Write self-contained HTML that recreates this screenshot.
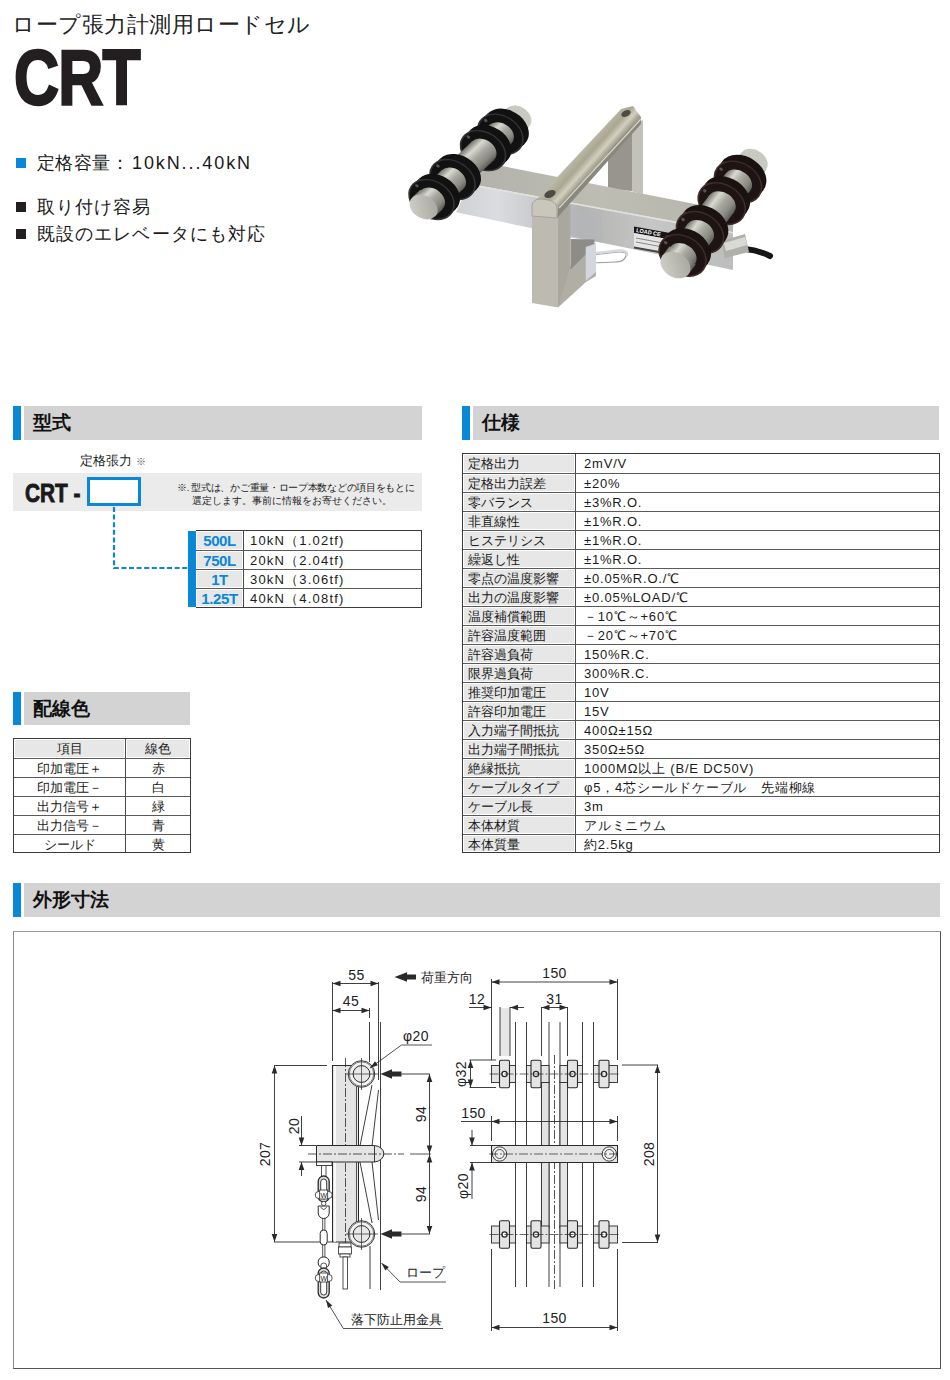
<!DOCTYPE html>
<html lang="ja"><head><meta charset="utf-8">
<style>
*{margin:0;padding:0;box-sizing:border-box}
html,body{width:950px;height:1380px;background:#fff;overflow:hidden}
body{position:relative;font-family:"Liberation Sans",sans-serif;color:#1a1a1a}
.a{position:absolute;white-space:nowrap}
.hdr{position:absolute;height:34px;background:#d3d3d3}
.hdr .bar{position:absolute;left:-11px;top:0;width:8px;height:34px;background:#0a88d8}
.hdr span{position:absolute;left:9px;top:5px;font-size:19px;font-weight:bold;color:#111;line-height:24px}
table{border-collapse:collapse;position:absolute;font-size:13px;table-layout:fixed}
td{border:1px solid #666;height:19px;padding:0;line-height:17px;white-space:nowrap;overflow:hidden}

.tbl{position:absolute;border:1px solid #3a3a3a;font-size:13px;line-height:20px;background:#fff}
.tbl .r{display:flex;height:19px;border-top:1px solid #5a5a5a}
.tbl .r:first-child{height:19px;border-top:0}
.spec .r:last-child,.wire .r:last-child{height:18px}
.tbl .c1{position:relative;border-right:1px solid #4a4a4a;background:#e7e7e7;box-shadow:inset 0 0 0 1px #fff;white-space:nowrap;overflow:hidden}
.tbl .c2{flex:1;white-space:nowrap;overflow:hidden}
.spec .c1{width:113px;padding-left:5px}
.spec .c2{padding-left:8px;letter-spacing:0.8px}
.wire .c1{width:112px;background:#fff;box-shadow:none;text-align:center}
.wire .c2{text-align:center}
.wire .r:first-child .c1,.wire .r:first-child .c2{background:#e7e7e7;box-shadow:inset 0 0 0 1px #fff}
.model{border-left:0}
.model .c1{width:48px;text-align:center;color:#0a88d8;font-weight:bold;font-size:15px;letter-spacing:-0.4px}
.model .c2{padding-left:6px;letter-spacing:1.2px}
</style></head><body>

<div class="a" style="left:12px;top:10px;font-size:22px;letter-spacing:0.5px;line-height:30px;color:#222">ロープ張力計測用ロードセル</div>
<div class="a" id="crt" style="left:14px;top:37px;font-size:78px;font-weight:bold;line-height:80px;color:#231f20;transform:scaleX(0.8);transform-origin:0 0;letter-spacing:-1px;-webkit-text-stroke:2.4px #231f20">CRT</div>

<div class="a" style="left:16px;top:158px;width:10px;height:10px;background:#0a88d8"></div>
<div class="a" style="left:37px;top:152px;font-size:18px;line-height:22px;letter-spacing:0.4px">定格容量：<span style="letter-spacing:1.9px;margin-left:3px">10kN...40kN</span></div>
<div class="a" style="left:16px;top:202px;width:10px;height:10px;background:#231f20"></div>
<div class="a" style="left:37px;top:196px;font-size:18px;line-height:22px;letter-spacing:1.1px">取り付け容易</div>
<div class="a" style="left:16px;top:229px;width:10px;height:10px;background:#231f20"></div>
<div class="a" style="left:37px;top:223px;font-size:18px;line-height:22px;letter-spacing:1.1px">既設のエレベータにも対応</div>

<!-- section headers -->
<div class="hdr" style="left:24px;top:406px;width:398px"><div class="bar"></div><span>型式</span></div>
<div class="hdr" style="left:473px;top:406px;width:466px"><div class="bar"></div><span>仕様</span></div>
<div class="hdr" style="left:24px;top:692px;width:166px;height:33px"><div class="bar" style="height:33px"></div><span>配線色</span></div>
<div class="hdr" style="left:24px;top:883px;width:916px"><div class="bar"></div><span>外形寸法</span></div>


<div class="a" style="left:13px;top:473px;width:409px;height:38px;background:#ebebeb"></div>
<div class="a" style="left:80px;top:452px;font-size:13px;line-height:18px">定格張力 <span style="font-size:10px;color:#555">※</span></div>
<div class="a" style="left:25px;top:476px;font-size:26px;font-weight:bold;line-height:34px;color:#1a1a1a;transform:scaleX(0.8);transform-origin:0 0;-webkit-text-stroke:0.9px #1a1a1a">CRT -</div>
<div class="a" style="left:87px;top:477px;width:54px;height:29px;border:3px solid #0a88d8;background:#fff"></div>
<div class="a" style="left:177px;top:481px;font-size:9.5px;line-height:13px;color:#222"><span style="letter-spacing:-0.3px">※. 型式は、かご重量・ロープ本数などの項目をもとに</span><br><span style="padding-left:15px">選定します。事前に情報をお寄せください。</span></div>
<svg class="a" style="left:0;top:0" width="200" height="600"><path d="M114,507 V568 H188" fill="none" stroke="#0a88d8" stroke-width="2.2" stroke-dasharray="5 2.6"/></svg>
<div class="a" style="left:188px;top:531px;width:8px;height:76px;background:#0a88d8"></div>
<div class="tbl spec" style="left:462px;top:453px;width:478px">
<div class="r"><div class="c1">定格出力</div><div class="c2">2mV/V</div></div>
<div class="r"><div class="c1">定格出力誤差</div><div class="c2">±20%</div></div>
<div class="r"><div class="c1">零バランス</div><div class="c2">±3%R.O.</div></div>
<div class="r"><div class="c1">非直線性</div><div class="c2">±1%R.O.</div></div>
<div class="r"><div class="c1">ヒステリシス</div><div class="c2">±1%R.O.</div></div>
<div class="r"><div class="c1">繰返し性</div><div class="c2">±1%R.O.</div></div>
<div class="r"><div class="c1">零点の温度影響</div><div class="c2">±0.05%R.O./℃</div></div>
<div class="r"><div class="c1">出力の温度影響</div><div class="c2">±0.05%LOAD/℃</div></div>
<div class="r"><div class="c1">温度補償範囲</div><div class="c2">－10℃～+60℃</div></div>
<div class="r"><div class="c1">許容温度範囲</div><div class="c2">－20℃～+70℃</div></div>
<div class="r"><div class="c1">許容過負荷</div><div class="c2">150%R.C.</div></div>
<div class="r"><div class="c1">限界過負荷</div><div class="c2">300%R.C.</div></div>
<div class="r"><div class="c1">推奨印加電圧</div><div class="c2">10V</div></div>
<div class="r"><div class="c1">許容印加電圧</div><div class="c2">15V</div></div>
<div class="r"><div class="c1">入力端子間抵抗</div><div class="c2">400Ω±15Ω</div></div>
<div class="r"><div class="c1">出力端子間抵抗</div><div class="c2">350Ω±5Ω</div></div>
<div class="r"><div class="c1">絶縁抵抗</div><div class="c2">1000MΩ以上 (B/E DC50V)</div></div>
<div class="r"><div class="c1">ケーブルタイプ</div><div class="c2">φ5，4芯シールドケーブル　先端柳線</div></div>
<div class="r"><div class="c1">ケーブル長</div><div class="c2">3m</div></div>
<div class="r"><div class="c1">本体材質</div><div class="c2">アルミニウム</div></div>
<div class="r"><div class="c1">本体質量</div><div class="c2">約2.5kg</div></div>
</div>
<div class="tbl wire" style="left:13px;top:738px;width:178px">
<div class="r"><div class="c1">項目</div><div class="c2">線色</div></div>
<div class="r"><div class="c1">印加電圧＋</div><div class="c2">赤</div></div>
<div class="r"><div class="c1">印加電圧－</div><div class="c2">白</div></div>
<div class="r"><div class="c1">出力信号＋</div><div class="c2">緑</div></div>
<div class="r"><div class="c1">出力信号－</div><div class="c2">青</div></div>
<div class="r"><div class="c1">シールド</div><div class="c2">黄</div></div>
</div>
<div class="tbl model" style="left:196px;top:530px;width:226px">
<div class="r"><div class="c1">500L</div><div class="c2">10kN（1.02tf)</div></div>
<div class="r"><div class="c1">750L</div><div class="c2">20kN（2.04tf)</div></div>
<div class="r"><div class="c1">1T</div><div class="c2">30kN（3.06tf)</div></div>
<div class="r"><div class="c1">1.25T</div><div class="c2">40kN（4.08tf)</div></div>
</div>
<!--DRAW-->
<div class="a" style="left:13px;top:931px;width:928px;height:438px;border:1px solid #555;border-top-color:#9a9a9a;border-left-color:#8a8a8a"></div>
<svg class="a" style="left:0;top:0" width="950" height="1380" viewBox="0 0 950 1380" font-family="Liberation Sans, sans-serif" fill="#222">
<line x1="332.5" y1="982" x2="332.5" y2="1061" stroke="#2a2a2a" stroke-width="0.9"/>
<line x1="378.5" y1="982" x2="378.5" y2="1080" stroke="#2a2a2a" stroke-width="0.9"/>
<line x1="332.5" y1="983.5" x2="378.5" y2="983.5" stroke="#2a2a2a" stroke-width="0.9"/>
<polygon points="332.5,983.5 340.5,980.7 340.5,986.3" fill="#2a2a2a"/>
<polygon points="378.5,983.5 370.5,986.3 370.5,980.7" fill="#2a2a2a"/>
<text x="356.5" y="975" font-size="14" text-anchor="middle" dominant-baseline="central" letter-spacing="0.4">55</text>
<line x1="369.5" y1="1008" x2="369.5" y2="1018" stroke="#2a2a2a" stroke-width="0.9"/>
<line x1="369.5" y1="1022" x2="369.5" y2="1062" stroke="#2a2a2a" stroke-width="0.9"/>
<line x1="332.5" y1="1010.5" x2="369.5" y2="1010.5" stroke="#2a2a2a" stroke-width="0.9"/>
<polygon points="332.5,1010.5 340.5,1007.7 340.5,1013.3" fill="#2a2a2a"/>
<polygon points="369.5,1010.5 361.5,1013.3 361.5,1007.7" fill="#2a2a2a"/>
<text x="351" y="1001" font-size="14" text-anchor="middle" dominant-baseline="central" letter-spacing="0.4">45</text>
<polygon points="394.5,977 407,972.3 407,974.6 416,974.6 416,979.4 407,979.4 407,981.7" fill="#2a2a2a"/>
<text x="421" y="977.5" font-size="13" text-anchor="start" dominant-baseline="central">荷重方向</text>
<line x1="380.5" y1="1022" x2="380.5" y2="1290" stroke="#2a2a2a" stroke-width="0.9"/>
<rect x="332.5" y="1065.5" width="26" height="176.5" fill="#e4e4e4" stroke="#2a2a2a" stroke-width="1"/>
<line x1="335" y1="1066" x2="335" y2="1242" stroke="#ffffff" stroke-width="1.6"/>
<line x1="356.5" y1="1066" x2="356.5" y2="1242" stroke="#2a2a2a" stroke-width="0.8"/>
<line x1="345.5" y1="1058" x2="345.5" y2="1250" stroke="#2a2a2a" stroke-width="0.8" stroke-dasharray="9 2 2 2"/>
<circle cx="361.5" cy="1074" r="13.3" fill="#f2f2f2" stroke="#2a2a2a" stroke-width="0.9"/>
<circle cx="361.5" cy="1074" r="12.2" fill="none" stroke="#2a2a2a" stroke-width="0.6"/>
<circle cx="361.5" cy="1074" r="8.4" fill="#e8e8e8" stroke="#2a2a2a" stroke-width="1"/>
<line x1="346" y1="1074" x2="378" y2="1074" stroke="#2a2a2a" stroke-width="0.7"/>
<line x1="361.5" y1="1058" x2="361.5" y2="1090" stroke="#2a2a2a" stroke-width="0.7"/>
<circle cx="361.5" cy="1234" r="13.3" fill="#f2f2f2" stroke="#2a2a2a" stroke-width="0.9"/>
<circle cx="361.5" cy="1234" r="12.2" fill="none" stroke="#2a2a2a" stroke-width="0.6"/>
<circle cx="361.5" cy="1234" r="8.4" fill="#e8e8e8" stroke="#2a2a2a" stroke-width="1"/>
<line x1="346" y1="1234" x2="378" y2="1234" stroke="#2a2a2a" stroke-width="0.7"/>
<line x1="361.5" y1="1218" x2="361.5" y2="1250" stroke="#2a2a2a" stroke-width="0.7"/>
<line x1="372" y1="1085" x2="360" y2="1146" stroke="#2a2a2a" stroke-width="0.9"/>
<line x1="378.5" y1="1090" x2="372" y2="1146" stroke="#2a2a2a" stroke-width="0.9"/>
<line x1="360" y1="1162" x2="372" y2="1223" stroke="#2a2a2a" stroke-width="0.9"/>
<line x1="372" y1="1162" x2="378.5" y2="1220" stroke="#2a2a2a" stroke-width="0.9"/>
<line x1="370" y1="1246" x2="370" y2="1289" stroke="#2a2a2a" stroke-width="0.9"/>
<path d="M316.5,1145.5 H374.5 A10.5,8.3 0 0 1 374.5,1162 H316.5 Z" fill="#e4e4e4" stroke="#2a2a2a" stroke-width="1"/>
<line x1="374.5" y1="1145.5" x2="374.5" y2="1162" stroke="#2a2a2a" stroke-width="0.9"/>
<rect x="316.5" y="1162" width="15.5" height="3.5" fill="#fff" stroke="#2a2a2a" stroke-width="0.9"/>
<line x1="308" y1="1154" x2="404" y2="1154" stroke="#2a2a2a" stroke-width="0.8" stroke-dasharray="9 2 2 2"/>
<line x1="410" y1="1154" x2="431" y2="1154" stroke="#2a2a2a" stroke-width="0.8"/>
<polygon points="380.5,1074 392,1069.2 392,1071.6 401.5,1071.6 401.5,1076.4 392,1076.4 392,1078.8" fill="#2a2a2a"/>
<line x1="401.5" y1="1074" x2="430" y2="1074" stroke="#2a2a2a" stroke-width="0.9"/>
<polygon points="380.5,1234 392,1229.2 392,1231.6 401.5,1231.6 401.5,1236.4 392,1236.4 392,1238.8" fill="#2a2a2a"/>
<line x1="401.5" y1="1234" x2="430" y2="1234" stroke="#2a2a2a" stroke-width="0.9"/>
<line x1="429.5" y1="1074" x2="429.5" y2="1234" stroke="#2a2a2a" stroke-width="0.9"/>
<polygon points="429.5,1074 432.3,1082.0 426.7,1082.0" fill="#2a2a2a"/>
<polygon points="429.5,1153.5 426.7,1145.5 432.3,1145.5" fill="#2a2a2a"/>
<polygon points="429.5,1154.5 432.3,1162.5 426.7,1162.5" fill="#2a2a2a"/>
<polygon points="429.5,1234 426.7,1226.0 432.3,1226.0" fill="#2a2a2a"/>
<text x="421" y="1114" font-size="14" text-anchor="middle" dominant-baseline="central" letter-spacing="0.4" transform="rotate(-90 421 1114)">94</text>
<text x="421" y="1194" font-size="14" text-anchor="middle" dominant-baseline="central" letter-spacing="0.4" transform="rotate(-90 421 1194)">94</text>
<line x1="274" y1="1065.5" x2="327" y2="1065.5" stroke="#2a2a2a" stroke-width="0.9"/>
<line x1="274" y1="1242" x2="332" y2="1242" stroke="#2a2a2a" stroke-width="0.9"/>
<line x1="274.5" y1="1065.5" x2="274.5" y2="1242" stroke="#2a2a2a" stroke-width="0.9"/>
<polygon points="274.5,1065.5 277.3,1073.5 271.7,1073.5" fill="#2a2a2a"/>
<polygon points="274.5,1242 271.7,1234.0 277.3,1234.0" fill="#2a2a2a"/>
<text x="265" y="1154" font-size="14" text-anchor="middle" dominant-baseline="central" letter-spacing="0.4" transform="rotate(-90 265 1154)">207</text>
<line x1="299" y1="1145.5" x2="316" y2="1145.5" stroke="#2a2a2a" stroke-width="0.9"/>
<line x1="299" y1="1162" x2="316" y2="1162" stroke="#2a2a2a" stroke-width="0.9"/>
<line x1="301.5" y1="1116" x2="301.5" y2="1145.5" stroke="#2a2a2a" stroke-width="0.9"/>
<polygon points="301.5,1145.5 298.7,1137.5 304.3,1137.5" fill="#2a2a2a"/>
<line x1="301.5" y1="1162" x2="301.5" y2="1176" stroke="#2a2a2a" stroke-width="0.9"/>
<polygon points="301.5,1162 304.3,1170.0 298.7,1170.0" fill="#2a2a2a"/>
<text x="294" y="1126" font-size="14" text-anchor="middle" dominant-baseline="central" letter-spacing="0.4" transform="rotate(-90 294 1126)">20</text>
<line x1="321.5" y1="1166" x2="321.5" y2="1177" stroke="#2a2a2a" stroke-width="0.8"/>
<line x1="326" y1="1166" x2="326" y2="1177" stroke="#2a2a2a" stroke-width="0.8"/>
<rect x="318.2" y="1176" width="11" height="26" rx="5.5" fill="#ddd" stroke="#2a2a2a" stroke-width="1.3"/>
<rect x="320.7" y="1179" width="6" height="20" rx="3" fill="#fff" stroke="#2a2a2a" stroke-width="0.9"/>
<circle cx="318.7" cy="1195" r="3.5" fill="#fff" stroke="#2a2a2a" stroke-width="0.8"/>
<circle cx="328.7" cy="1195" r="3.5" fill="#fff" stroke="#2a2a2a" stroke-width="0.8"/>
<rect x="319.7" y="1190" width="8" height="9" fill="#fff" stroke="#2a2a2a" stroke-width="0.8"/>
<text x="323.7" y="1195" font-size="7" text-anchor="middle" dominant-baseline="central">W</text>
<path d="M318.2,1206 V1213 A5.5,5.5 0 0 0 329.2,1213 V1206 Z" fill="#fff" stroke="#2a2a2a" stroke-width="1"/>
<path d="M320.7,1207 Q323.7,1212 326.7,1207" fill="none" stroke="#2a2a2a" stroke-width="0.8"/>
<circle cx="323.7" cy="1203.5" r="2.2" fill="#fff" stroke="#2a2a2a" stroke-width="0.8"/>
<line x1="322.7" y1="1218" x2="322.7" y2="1230" stroke="#2a2a2a" stroke-width="0.8"/>
<line x1="324.9" y1="1218" x2="324.9" y2="1230" stroke="#2a2a2a" stroke-width="0.8"/>
<rect x="320.2" y="1230" width="7" height="15" rx="3.5" fill="#fff" stroke="#2a2a2a" stroke-width="1"/>
<line x1="322.7" y1="1245" x2="322.7" y2="1257" stroke="#2a2a2a" stroke-width="0.8"/>
<line x1="324.9" y1="1245" x2="324.9" y2="1257" stroke="#2a2a2a" stroke-width="0.8"/>
<rect x="318.2" y="1257" width="11" height="11" rx="5" fill="#fff" stroke="#2a2a2a" stroke-width="1"/>
<circle cx="323.7" cy="1266" r="3" fill="#fff" stroke="#2a2a2a" stroke-width="0.8"/>
<rect x="318.2" y="1268" width="11" height="30" rx="5.5" fill="#ddd" stroke="#2a2a2a" stroke-width="1.3"/>
<rect x="320.7" y="1271" width="6" height="24" rx="3" fill="#fff" stroke="#2a2a2a" stroke-width="0.9"/>
<circle cx="318.7" cy="1278" r="3.5" fill="#fff" stroke="#2a2a2a" stroke-width="0.8"/>
<circle cx="328.7" cy="1278" r="3.5" fill="#fff" stroke="#2a2a2a" stroke-width="0.8"/>
<rect x="319.7" y="1273" width="8" height="9" fill="#fff" stroke="#2a2a2a" stroke-width="0.8"/>
<text x="323.7" y="1278" font-size="7" text-anchor="middle" dominant-baseline="central">W</text>
<rect x="339" y="1243" width="12" height="4" fill="#fff" stroke="#2a2a2a" stroke-width="0.8"/>
<rect x="338.5" y="1247" width="13" height="7" fill="#fff" stroke="#2a2a2a" stroke-width="0.8"/>
<rect x="340" y="1254" width="10" height="3" fill="#fff" stroke="#2a2a2a" stroke-width="0.8"/>
<rect x="343" y="1257" width="4.5" height="32" fill="#fff" stroke="#2a2a2a" stroke-width="0.8"/>
<line x1="381.5" y1="1263" x2="400" y2="1282" stroke="#2a2a2a" stroke-width="0.8"/>
<polygon points="381.5,1263 388.9,1267.0 385.3,1270.5" fill="#2a2a2a"/>
<line x1="400" y1="1282" x2="446" y2="1282" stroke="#2a2a2a" stroke-width="0.8"/>
<text x="425.5" y="1272" font-size="13" text-anchor="middle" dominant-baseline="central">ロープ</text>
<line x1="326" y1="1300" x2="343" y2="1328" stroke="#2a2a2a" stroke-width="0.8"/>
<polygon points="326,1300 332.3,1305.5 328.0,1308.1" fill="#2a2a2a"/>
<line x1="343" y1="1328.5" x2="443" y2="1328.5" stroke="#2a2a2a" stroke-width="0.8"/>
<text x="396" y="1319" font-size="13" text-anchor="middle" dominant-baseline="central">落下防止用金具</text>
<line x1="401.5" y1="1045" x2="432" y2="1045" stroke="#2a2a2a" stroke-width="0.8"/>
<line x1="401.5" y1="1045" x2="370" y2="1068" stroke="#2a2a2a" stroke-width="0.8"/>
<polygon points="370,1068 375.0,1061.3 377.9,1065.3" fill="#2a2a2a"/>
<text x="416" y="1036" font-size="14" text-anchor="middle" dominant-baseline="central" letter-spacing="0.4">φ20</text>
<line x1="491.5" y1="979" x2="491.5" y2="1060" stroke="#2a2a2a" stroke-width="0.9"/>
<line x1="617.5" y1="979" x2="617.5" y2="1060" stroke="#2a2a2a" stroke-width="0.9"/>
<line x1="491.5" y1="982" x2="617.5" y2="982" stroke="#2a2a2a" stroke-width="0.9"/>
<polygon points="491.5,982 499.5,979.2 499.5,984.8" fill="#2a2a2a"/>
<polygon points="617.5,982 609.5,984.8 609.5,979.2" fill="#2a2a2a"/>
<text x="554.5" y="973" font-size="14" text-anchor="middle" dominant-baseline="central" letter-spacing="0.4">150</text>
<line x1="469" y1="1007.5" x2="491.5" y2="1007.5" stroke="#2a2a2a" stroke-width="0.9"/>
<polygon points="491.5,1007.5 483.5,1010.3 483.5,1004.7" fill="#2a2a2a"/>
<line x1="510" y1="1007.5" x2="524" y2="1007.5" stroke="#2a2a2a" stroke-width="0.9"/>
<polygon points="510,1007.5 518.0,1004.7 518.0,1010.3" fill="#2a2a2a"/>
<rect x="500" y="1008" width="10" height="48" fill="#e6e6e6" stroke="#e6e6e6" stroke-width="0"/>
<line x1="500" y1="1007" x2="500" y2="1056" stroke="#2a2a2a" stroke-width="0.9"/>
<line x1="510" y1="1007" x2="510" y2="1056" stroke="#2a2a2a" stroke-width="0.9"/>
<text x="477" y="999" font-size="14" text-anchor="middle" dominant-baseline="central" letter-spacing="0.4">12</text>
<line x1="541.5" y1="1007.5" x2="567.5" y2="1007.5" stroke="#2a2a2a" stroke-width="0.9"/>
<polygon points="541.5,1007.5 549.5,1004.7 549.5,1010.3" fill="#2a2a2a"/>
<polygon points="567.5,1007.5 559.5,1010.3 559.5,1004.7" fill="#2a2a2a"/>
<line x1="541.5" y1="1007" x2="541.5" y2="1056" stroke="#2a2a2a" stroke-width="0.9"/>
<line x1="567.5" y1="1007" x2="567.5" y2="1056" stroke="#2a2a2a" stroke-width="0.9"/>
<text x="554.5" y="999" font-size="14" text-anchor="middle" dominant-baseline="central" letter-spacing="0.4">31</text>
<line x1="515.5" y1="1022" x2="515.5" y2="1287" stroke="#2a2a2a" stroke-width="0.9"/>
<line x1="526.5" y1="1022" x2="526.5" y2="1287" stroke="#2a2a2a" stroke-width="0.9"/>
<line x1="549" y1="1022" x2="549" y2="1287" stroke="#2a2a2a" stroke-width="0.9"/>
<line x1="560" y1="1022" x2="560" y2="1287" stroke="#2a2a2a" stroke-width="0.9"/>
<line x1="582.5" y1="1022" x2="582.5" y2="1287" stroke="#2a2a2a" stroke-width="0.9"/>
<line x1="593.5" y1="1022" x2="593.5" y2="1287" stroke="#2a2a2a" stroke-width="0.9"/>
<rect x="541.5" y="1082" width="7.5" height="146" fill="#e4e4e4" stroke="#2a2a2a" stroke-width="0.9"/>
<rect x="560" y="1082" width="7.5" height="146" fill="#e4e4e4" stroke="#2a2a2a" stroke-width="0.9"/>
<line x1="554.5" y1="1055" x2="554.5" y2="1290" stroke="#2a2a2a" stroke-width="0.8" stroke-dasharray="9 2 2 2"/>
<rect x="491.5" y="1065.5" width="24.0" height="17" fill="#e4e4e4" stroke="#2a2a2a" stroke-width="0.9"/>
<rect x="499.5" y="1060.2" width="10" height="27.6" rx="1.5" fill="#e4e4e4" stroke="#2a2a2a" stroke-width="1.1"/>
<circle cx="504.5" cy="1074" r="2.6" fill="#fff" stroke="#2a2a2a" stroke-width="1.3"/>
<rect x="526.5" y="1065.5" width="22.5" height="17" fill="#e4e4e4" stroke="#2a2a2a" stroke-width="0.9"/>
<rect x="531" y="1060.2" width="10" height="27.6" rx="1.5" fill="#e4e4e4" stroke="#2a2a2a" stroke-width="1.1"/>
<circle cx="536" cy="1074" r="2.6" fill="#fff" stroke="#2a2a2a" stroke-width="1.3"/>
<rect x="560" y="1065.5" width="22.5" height="17" fill="#e4e4e4" stroke="#2a2a2a" stroke-width="0.9"/>
<rect x="567.5" y="1060.2" width="10" height="27.6" rx="1.5" fill="#e4e4e4" stroke="#2a2a2a" stroke-width="1.1"/>
<circle cx="572.5" cy="1074" r="2.6" fill="#fff" stroke="#2a2a2a" stroke-width="1.3"/>
<rect x="593.5" y="1065.5" width="24.0" height="17" fill="#e4e4e4" stroke="#2a2a2a" stroke-width="0.9"/>
<rect x="599" y="1060.2" width="10" height="27.6" rx="1.5" fill="#e4e4e4" stroke="#2a2a2a" stroke-width="1.1"/>
<circle cx="604" cy="1074" r="2.6" fill="#fff" stroke="#2a2a2a" stroke-width="1.3"/>
<line x1="489.5" y1="1074" x2="619" y2="1074" stroke="#2a2a2a" stroke-width="0.7" stroke-dasharray="9 2 2 2"/>
<rect x="491.5" y="1226.0" width="24.0" height="17" fill="#e4e4e4" stroke="#2a2a2a" stroke-width="0.9"/>
<rect x="499.5" y="1220.7" width="10" height="27.6" rx="1.5" fill="#e4e4e4" stroke="#2a2a2a" stroke-width="1.1"/>
<circle cx="504.5" cy="1234.5" r="2.6" fill="#fff" stroke="#2a2a2a" stroke-width="1.3"/>
<rect x="526.5" y="1226.0" width="22.5" height="17" fill="#e4e4e4" stroke="#2a2a2a" stroke-width="0.9"/>
<rect x="531" y="1220.7" width="10" height="27.6" rx="1.5" fill="#e4e4e4" stroke="#2a2a2a" stroke-width="1.1"/>
<circle cx="536" cy="1234.5" r="2.6" fill="#fff" stroke="#2a2a2a" stroke-width="1.3"/>
<rect x="560" y="1226.0" width="22.5" height="17" fill="#e4e4e4" stroke="#2a2a2a" stroke-width="0.9"/>
<rect x="567.5" y="1220.7" width="10" height="27.6" rx="1.5" fill="#e4e4e4" stroke="#2a2a2a" stroke-width="1.1"/>
<circle cx="572.5" cy="1234.5" r="2.6" fill="#fff" stroke="#2a2a2a" stroke-width="1.3"/>
<rect x="593.5" y="1226.0" width="24.0" height="17" fill="#e4e4e4" stroke="#2a2a2a" stroke-width="0.9"/>
<rect x="599" y="1220.7" width="10" height="27.6" rx="1.5" fill="#e4e4e4" stroke="#2a2a2a" stroke-width="1.1"/>
<circle cx="604" cy="1234.5" r="2.6" fill="#fff" stroke="#2a2a2a" stroke-width="1.3"/>
<line x1="489.5" y1="1234.5" x2="619" y2="1234.5" stroke="#2a2a2a" stroke-width="0.7" stroke-dasharray="9 2 2 2"/>
<line x1="469.5" y1="1060" x2="496" y2="1060" stroke="#2a2a2a" stroke-width="0.9"/>
<line x1="469.5" y1="1087.5" x2="496" y2="1087.5" stroke="#2a2a2a" stroke-width="0.9"/>
<line x1="470.5" y1="1060" x2="470.5" y2="1087.5" stroke="#2a2a2a" stroke-width="0.9"/>
<polygon points="470.5,1060 473.3,1068.0 467.7,1068.0" fill="#2a2a2a"/>
<polygon points="470.5,1087.5 467.7,1079.5 473.3,1079.5" fill="#2a2a2a"/>
<text x="461" y="1074" font-size="14" text-anchor="middle" dominant-baseline="central" letter-spacing="0.4" transform="rotate(-90 461 1074)">φ32</text>
<line x1="461" y1="1121.5" x2="617.5" y2="1121.5" stroke="#2a2a2a" stroke-width="0.9"/>
<polygon points="491.5,1121.5 499.5,1118.7 499.5,1124.3" fill="#2a2a2a"/>
<polygon points="617.5,1121.5 609.5,1124.3 609.5,1118.7" fill="#2a2a2a"/>
<line x1="491.5" y1="1116" x2="491.5" y2="1141" stroke="#2a2a2a" stroke-width="0.9"/>
<line x1="617.5" y1="1116" x2="617.5" y2="1141" stroke="#2a2a2a" stroke-width="0.9"/>
<text x="473.5" y="1113" font-size="14" text-anchor="middle" dominant-baseline="central" letter-spacing="0.4">150</text>
<rect x="491.5" y="1145.5" width="126" height="17" fill="#e4e4e4" stroke="#2a2a2a" stroke-width="1"/>
<circle cx="499.6" cy="1154" r="7.2" fill="#f0f0f0" stroke="#2a2a2a" stroke-width="0.9"/>
<circle cx="499.6" cy="1154" r="4.5" fill="none" stroke="#2a2a2a" stroke-width="0.8"/>
<circle cx="609.3" cy="1154" r="7.2" fill="#f0f0f0" stroke="#2a2a2a" stroke-width="0.9"/>
<circle cx="609.3" cy="1154" r="4.5" fill="none" stroke="#2a2a2a" stroke-width="0.8"/>
<line x1="489" y1="1154" x2="620" y2="1154" stroke="#2a2a2a" stroke-width="0.7" stroke-dasharray="9 2 2 2"/>
<line x1="470" y1="1145.5" x2="491" y2="1145.5" stroke="#2a2a2a" stroke-width="0.9"/>
<line x1="470" y1="1162.5" x2="491" y2="1162.5" stroke="#2a2a2a" stroke-width="0.9"/>
<line x1="472" y1="1130" x2="472" y2="1145.5" stroke="#2a2a2a" stroke-width="0.9"/>
<polygon points="472,1145.5 469.2,1137.5 474.8,1137.5" fill="#2a2a2a"/>
<line x1="472" y1="1162.5" x2="472" y2="1199" stroke="#2a2a2a" stroke-width="0.9"/>
<polygon points="472,1162.5 474.8,1170.5 469.2,1170.5" fill="#2a2a2a"/>
<text x="463" y="1186" font-size="14" text-anchor="middle" dominant-baseline="central" letter-spacing="0.4" transform="rotate(-90 463 1186)">φ20</text>
<line x1="622" y1="1065" x2="658" y2="1065" stroke="#2a2a2a" stroke-width="0.9"/>
<line x1="622" y1="1242.5" x2="658" y2="1242.5" stroke="#2a2a2a" stroke-width="0.9"/>
<line x1="657.5" y1="1065" x2="657.5" y2="1242.5" stroke="#2a2a2a" stroke-width="0.9"/>
<polygon points="657.5,1065 660.3,1073.0 654.7,1073.0" fill="#2a2a2a"/>
<polygon points="657.5,1242.5 654.7,1234.5 660.3,1234.5" fill="#2a2a2a"/>
<text x="648.5" y="1154" font-size="14" text-anchor="middle" dominant-baseline="central" letter-spacing="0.4" transform="rotate(-90 648.5 1154)">208</text>
<line x1="491.5" y1="1249" x2="491.5" y2="1331" stroke="#2a2a2a" stroke-width="0.9"/>
<line x1="617.5" y1="1249" x2="617.5" y2="1331" stroke="#2a2a2a" stroke-width="0.9"/>
<line x1="491.5" y1="1327.5" x2="617.5" y2="1327.5" stroke="#2a2a2a" stroke-width="0.9"/>
<polygon points="491.5,1327.5 499.5,1324.7 499.5,1330.3" fill="#2a2a2a"/>
<polygon points="617.5,1327.5 609.5,1330.3 609.5,1324.7" fill="#2a2a2a"/>
<text x="554.5" y="1317.5" font-size="14" text-anchor="middle" dominant-baseline="central" letter-spacing="0.4">150</text>
</svg>
<!--/DRAW-->
<!--PHOTO-->
<svg class="a" style="left:400px;top:90px" width="400" height="240" viewBox="400 90 400 240">
<defs>
<linearGradient id="gBeamF" x1="0" y1="0" x2="1" y2="0">
<stop offset="0" stop-color="#cfd1d5"/><stop offset="0.15" stop-color="#dadce0"/><stop offset="0.3" stop-color="#c8c9cc"/><stop offset="0.45" stop-color="#b3b3b1"/><stop offset="0.7" stop-color="#c6c6c6"/><stop offset="1" stop-color="#bdbdbd"/></linearGradient>
<linearGradient id="gBeamT" x1="0" y1="0" x2="1" y2="0">
<stop offset="0" stop-color="#b3b2aa"/><stop offset="0.5" stop-color="#bebdb4"/><stop offset="1" stop-color="#b6b5ad"/></linearGradient>
<linearGradient id="gBar" gradientUnits="userSpaceOnUse" x1="577" y1="155" x2="596" y2="172">
<stop offset="0" stop-color="#bcb9a6"/><stop offset="0.35" stop-color="#a9a692"/><stop offset="0.6" stop-color="#d3d0bf"/><stop offset="0.85" stop-color="#9a9886"/><stop offset="1" stop-color="#858372"/></linearGradient>
<linearGradient id="gShaft" x1="0" y1="0" x2="0" y2="1">
<stop offset="0" stop-color="#77776f"/><stop offset="0.25" stop-color="#d9d9d2"/><stop offset="0.5" stop-color="#a9a9a1"/><stop offset="0.8" stop-color="#8a8a82"/><stop offset="1" stop-color="#5e5e58"/></linearGradient>
<linearGradient id="gCap" x1="0" y1="0" x2="1" y2="1">
<stop offset="0" stop-color="#d5d5cf"/><stop offset="1" stop-color="#a2a29a"/></linearGradient>
<linearGradient id="gSideL" x1="0" y1="0" x2="0" y2="1">
<stop offset="0" stop-color="#3a3a3a"/><stop offset="0.3" stop-color="#1a1a1a"/><stop offset="1" stop-color="#0a0a0a"/></linearGradient>
<linearGradient id="gSideR" x1="0" y1="0" x2="0" y2="1">
<stop offset="0" stop-color="#4a3a36"/><stop offset="0.3" stop-color="#2a1c1a"/><stop offset="1" stop-color="#140c0b"/></linearGradient>
</defs>

<polygon points="608,137 632,124 643,124 643,194 632,191 608,189" fill="#97958d"/>
<polygon points="632,124 643,120 643,194 632,191" fill="#c2c1ba"/>
<polygon points="484,162.5 733,211.5 733,232 470,184" fill="url(#gBeamT)"/>
<polygon points="470,184 733,232 733,270 456,212.3" fill="url(#gBeamF)"/>
<polygon points="470,184 733,232 733,233.5 470,185.5" fill="#e2e2de"/>
<polygon points="634,226.5 670,233 670,239.5 634,233" fill="#161616"/>
<polygon points="634,233 670,239.5 670,253 634,246.5" fill="#e4e4e4"/>
<line x1="636" y1="238" x2="668" y2="244" stroke="#888" stroke-width="1"/>
<line x1="636" y1="242" x2="668" y2="248" stroke="#888" stroke-width="1"/>
<polygon points="634,246.5 670,253 670,255 634,248.5" fill="#444"/>
<text x="636" y="232" font-size="5.5" font-weight="bold" fill="#fff" transform="rotate(10 636 232)" font-family="Liberation Sans, sans-serif">LOAD CE</text>
<polygon points="560,206 600,214 604,243 560,236" fill="#b4b5b8" opacity="0.7"/>
<polygon points="558,268 571,266 596,243 596,276 586,282 558,307.5" fill="#b0aea5"/>
<polygon points="570.5,239 594.5,239.5 594.5,246 570.5,269.5" fill="#8e8c86"/>
<path d="M592,255 L618,252 Q627,251 626,256 Q624,262 616,262 L592,263" fill="none" stroke="#9a9ca0" stroke-width="1.2"/>
<path d="M592,253.5 L619,250.5 Q628,250 627,256" fill="none" stroke="#d7d9dd" stroke-width="2.6"/>
<polygon points="585.7,247 596,243.5 596,272 585.7,281" fill="#d3d6dc"/>
<polygon points="558,209 570.5,205 570.5,266 558,307.5" fill="#a9a79e"/>
<polygon points="532,215 558,217 558,307.5 532,303" fill="#bcbab1"/>
<polygon points="532,204 621,109 633,106 641,117 558,207 546,202" fill="url(#gBar)"/>
<polygon points="558,207 641,117 641,124 557,218" fill="#8a887b"/>
<line x1="559" y1="208" x2="641" y2="119" stroke="#d8d6ca" stroke-width="1.2"/>
<path d="M532,216 L532,205 Q533,199 541,199 L548,200 Q557,202 557,209 L557,218 Z" fill="#c9c7bc" stroke="#9e9c90" stroke-width="0.8"/>
<ellipse cx="550" cy="194" rx="6" ry="3.5" fill="#4c4b45" transform="rotate(-25 550 194)"/>
<ellipse cx="626" cy="113.5" rx="5" ry="3" fill="#4c4b45" transform="rotate(-25 626 113.5)"/>
<path d="M745,249 Q758,250 770,256" fill="none" stroke="#151515" stroke-width="6" stroke-linecap="round"/>
<polygon points="721,241 745,234 749,252 725,258" fill="#b0b0aa"/>
<polygon points="724,243 745,237 747,245 726,251" fill="#dadad4"/>
<g transform="matrix(1,0.22,0,0.86,423.6,207)"><g transform="rotate(-53.65)">
<rect x="134.6" y="-13.5" width="24.5" height="27.0" fill="url(#gShaft)"/>
<circle cx="159.1" cy="0" r="13.5" fill="#c9c9c1"/>
<circle cx="139.6" cy="0" r="22.5" fill="#111111"/>
<rect x="129.6" y="-22.5" width="10" height="45.0" fill="url(#gSideL)"/>
<circle cx="129.6" cy="0" r="22.5" fill="#121212" stroke="#333333" stroke-width="1.6"/>
<circle cx="130.6" cy="-19.0" r="1.8" fill="#555"/>
<circle cx="129.6" cy="0" r="13.5" fill="url(#gShaft)"/>
<rect x="110.3" y="-13.5" width="19.4" height="27.0" fill="url(#gShaft)"/>
<circle cx="110.3" cy="0" r="22.5" fill="#111111"/>
<rect x="100.3" y="-22.5" width="10" height="45.0" fill="url(#gSideL)"/>
<circle cx="100.3" cy="0" r="22.5" fill="#121212" stroke="#333333" stroke-width="1.6"/>
<circle cx="101.3" cy="-19.0" r="1.8" fill="#555"/>
<circle cx="100.3" cy="0" r="13.5" fill="url(#gShaft)"/>
<rect x="58.9" y="-13.5" width="41.4" height="27.0" fill="url(#gShaft)"/>
<circle cx="58.9" cy="0" r="22.5" fill="#111111"/>
<rect x="48.9" y="-22.5" width="10" height="45.0" fill="url(#gSideL)"/>
<circle cx="48.9" cy="0" r="22.5" fill="#121212" stroke="#333333" stroke-width="1.6"/>
<circle cx="49.9" cy="-19.0" r="1.8" fill="#555"/>
<circle cx="48.9" cy="0" r="13.5" fill="url(#gShaft)"/>
<rect x="23.4" y="-13.5" width="25.5" height="27.0" fill="url(#gShaft)"/>
<circle cx="23.4" cy="0" r="22.5" fill="#111111"/>
<rect x="13.4" y="-22.5" width="10" height="45.0" fill="url(#gSideL)"/>
<circle cx="13.4" cy="0" r="22.5" fill="#121212" stroke="#333333" stroke-width="1.6"/>
<circle cx="14.4" cy="-19.0" r="1.8" fill="#555"/>
<circle cx="13.4" cy="0" r="13.5" fill="url(#gShaft)"/>
<rect x="0.0" y="-13.5" width="13.4" height="27.0" fill="url(#gShaft)"/>
<rect x="0" y="-14" width="13.4" height="28" fill="url(#gShaft)"/>
<circle cx="0" cy="0" r="14" fill="url(#gCap)"/>
</g></g>
<g transform="matrix(1,0.22,0,0.86,675.4,265)"><g transform="rotate(-60.90)">
<rect x="133.8" y="-14" width="27.2" height="28" fill="url(#gShaft)"/>
<circle cx="161.0" cy="0" r="14" fill="#c9c9c1"/>
<circle cx="138.8" cy="0" r="23.5" fill="#1a1111"/>
<rect x="128.8" y="-23.5" width="10" height="47.0" fill="url(#gSideR)"/>
<circle cx="128.8" cy="0" r="23.5" fill="#1e1413" stroke="#3e2e2b" stroke-width="1.6"/>
<circle cx="129.8" cy="-20.0" r="1.8" fill="#555"/>
<circle cx="128.8" cy="0" r="14" fill="url(#gShaft)"/>
<rect x="105.3" y="-14" width="23.4" height="28" fill="url(#gShaft)"/>
<circle cx="105.3" cy="0" r="23.5" fill="#1a1111"/>
<rect x="95.3" y="-23.5" width="10" height="47.0" fill="url(#gSideR)"/>
<circle cx="95.3" cy="0" r="23.5" fill="#1e1413" stroke="#3e2e2b" stroke-width="1.6"/>
<circle cx="96.3" cy="-20.0" r="1.8" fill="#555"/>
<circle cx="95.3" cy="0" r="14" fill="url(#gShaft)"/>
<rect x="60.7" y="-14" width="34.6" height="28" fill="url(#gShaft)"/>
<circle cx="60.7" cy="0" r="23.5" fill="#1a1111"/>
<rect x="50.7" y="-23.5" width="10" height="47.0" fill="url(#gSideR)"/>
<circle cx="50.7" cy="0" r="23.5" fill="#1e1413" stroke="#3e2e2b" stroke-width="1.6"/>
<circle cx="51.7" cy="-20.0" r="1.8" fill="#555"/>
<circle cx="50.7" cy="0" r="14" fill="url(#gShaft)"/>
<rect x="24.8" y="-14" width="25.9" height="28" fill="url(#gShaft)"/>
<circle cx="24.8" cy="0" r="23.5" fill="#1a1111"/>
<rect x="14.8" y="-23.5" width="10" height="47.0" fill="url(#gSideR)"/>
<circle cx="14.8" cy="0" r="23.5" fill="#1e1413" stroke="#3e2e2b" stroke-width="1.6"/>
<circle cx="15.8" cy="-20.0" r="1.8" fill="#555"/>
<circle cx="14.8" cy="0" r="14" fill="url(#gShaft)"/>
<rect x="0.0" y="-14" width="14.8" height="28" fill="url(#gShaft)"/>
<rect x="0" y="-15" width="14.8" height="30" fill="url(#gShaft)"/>
<circle cx="0" cy="0" r="15" fill="url(#gCap)"/>
</g></g>
</svg>
<!--/PHOTO-->
</body></html>
